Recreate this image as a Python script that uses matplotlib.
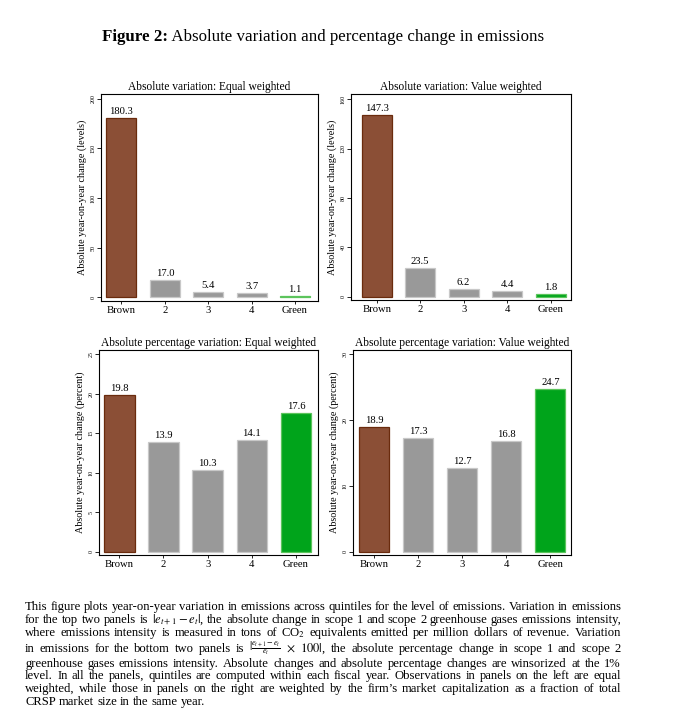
import matplotlib
matplotlib.use("Agg")
import matplotlib.pyplot as plt
import numpy as np

plt.rcParams['font.family'] = ['Liberation Serif', 'DejaVu Serif']
plt.rcParams['mathtext.fontset'] = 'stix'

# ---------------- data ----------------
categories = ["Brown", "2", "3", "4", "Green"]
abs_equal = [180.3, 17.0, 5.4, 3.7, 1.1]
abs_value = [147.3, 23.5, 6.2, 4.4, 1.8]
pct_equal = [19.8, 13.9, 10.3, 14.1, 17.6]
pct_value = [18.9, 17.3, 12.7, 16.8, 24.7]

ticks_abs_equal = [0, 50, 100, 150, 200]
ticks_abs_value = [0, 40, 80, 120, 160]
ticks_pct_equal = [0, 5, 10, 15, 20, 25]
ticks_pct_value = [0, 10, 20, 30]

titles = ["Absolute variation: Equal weighted",
          "Absolute variation: Value weighted",
          "Absolute percentage variation: Equal weighted",
          "Absolute percentage variation: Value weighted"]
ylabels = ["Absolute year-on-year change (levels)",
           "Absolute year-on-year change (levels)",
           "Absolute year-on-year change (percent)",
           "Absolute year-on-year change (percent)"]

fig_title_bold = "Figure 2:"
fig_title_rest = "Absolute variation and percentage change in emissions"

caption_lines = [
    "This figure plots year-on-year variation in emissions across quintiles for the level of emissions. Variation in emissions",
    r"for the top two panels is $|e_{t+1}-e_t|$, the absolute change in scope 1 and scope 2 greenhouse gases emissions intensity,",
    r"where emissions intensity is measured in tons of CO$_2$ equivalents emitted per million dollars of revenue. Variation",
    r"in emissions for the bottom two panels is $|\frac{e_{t+1}-e_t}{e_t}$ $\times$ $100|$, the absolute percentage change in scope 1 and scope 2",
    "greenhouse gases emissions intensity. Absolute changes and absolute percentage changes are winsorized at the 1%",
    "level. In all the panels, quintiles are computed within each fiscal year. Observations in panels on the left are equal",
    "weighted, while those in panels on the right are weighted by the firm\u2019s market capitalization as a fraction of total",
    "CRSP market size in the same year.",
]

# ---------------- layout ----------------
W, H = 673, 724
fig = plt.figure(figsize=(W / 100, H / 100), dpi=100)
fig.patch.set_facecolor('white')


def fx(x):
    return x / W


def fy(y):
    return 1 - y / H


BROWN, BROWN_E = '#8B4F36', '#6A2B0D'
GRAY, GRAY_E = '#999999', '#C8C8C8'
GREEN, GREEN_E = '#00A41B', '#5CC45C'
fills = [BROWN, GRAY, GRAY, GRAY, GREEN]
edges = [BROWN_E, GRAY_E, GRAY_E, GRAY_E, GREEN_E]

panels = [
    dict(box=(101, 94, 318, 301), vals=abs_equal, ticks=ticks_abs_equal,
         ylim=(-4, 205), xlim=(-0.47, 4.53)),
    dict(box=(351, 94, 571, 300), vals=abs_value, ticks=ticks_abs_value,
         ylim=(-2.7, 164.3), xlim=(-0.59, 4.47)),
    dict(box=(99, 350, 318, 555), vals=pct_equal, ticks=ticks_pct_equal,
         ylim=(-0.42, 25.55), xlim=(-0.46, 4.5)),
    dict(box=(353, 350, 571, 555), vals=pct_value, ticks=ticks_pct_value,
         ylim=(-0.5, 30.66), xlim=(-0.48, 4.47)),
]

for i, p in enumerate(panels):
    l, t, r, b = p['box']
    ax = fig.add_axes([fx(l), fy(b), (r - l) / W, (b - t) / H])
    x = np.arange(len(categories))
    bars = ax.bar(x, p['vals'], width=0.69, color=fills, edgecolor=edges,
                  linewidth=0.9)
    ax.bar_label(bars, labels=[f"{v:.1f}" for v in p['vals']], padding=1.5,
                 fontsize=7.7)
    ax.set_xticks(x, categories)
    ax.set_xlim(*p['xlim'])
    ax.set_ylim(*p['ylim'])
    ax.set_yticks(p['ticks'])
    ax.tick_params(axis='y', labelsize=4.3, labelrotation=90, length=3,
                   width=0.6, pad=1)
    ax.tick_params(axis='x', labelsize=7.7, length=2.5, width=0.6, pad=1)
    for lab in ax.get_yticklabels():
        lab.set_va('center')
    for s in ax.spines.values():
        s.set_linewidth(0.8)
    ax.set_title(titles[i], fontsize=8.3, pad=3.2)
    ax.set_ylabel(ylabels[i], fontsize=7.3)
    ax.yaxis.set_label_coords(-14 / (r - l), 0.5)

renderer = fig.canvas.get_renderer()

# ---------------- figure title ----------------
base_size = 12
tb = fig.text(0, 0, fig_title_bold, fontsize=base_size, fontweight='bold')
tr = fig.text(0, 0, " " + fig_title_rest, fontsize=base_size)
wb = tb.get_window_extent(renderer).width
wr = tr.get_window_extent(renderer).width
scale = 441 / (wb + wr)
size_t = base_size * scale
tb.set_fontsize(size_t)
tr.set_fontsize(size_t)
wb = tb.get_window_extent(renderer).width
tb.set_position((fx(102), fy(41)))
tr.set_position((fx(102 + wb), fy(41)))
tb.set_va('baseline')
tr.set_va('baseline')

# ---------------- caption (justified) ----------------
CAP_L, CAP_R = 25, 621
cap_base = [610, 623, 636, 652, 667, 679, 692, 705]


def measure(tok, size):
    t = fig.text(0, 0, tok, fontsize=size)
    w = t.get_window_extent(renderer).width
    t.remove()
    return w


probe = 10
toks0 = caption_lines[0].split(' ')
nat0 = sum(measure(t, probe) for t in toks0) + 0.25 * probe * 100 / 72 * (len(toks0) - 1)
cap_size = probe * (CAP_R - CAP_L - 2) / nat0
MIN_GAP = 1.6

for k, line in enumerate(caption_lines):
    toks = line.split(' ')
    sizes = [cap_size * (0.92 if '\\frac' in tok else 1.0) for tok in toks]
    widths = [measure(t, s) for t, s in zip(toks, sizes)]
    if k < len(caption_lines) - 1:
        gap = (CAP_R - CAP_L - sum(widths)) / (len(toks) - 1)
        gap = max(gap, MIN_GAP)
    else:
        gap = 0.25 * cap_size * 100 / 72
    xpos = CAP_L
    for tok, w, s in zip(toks, widths, sizes):
        fig.text(fx(xpos), fy(cap_base[k]), tok, fontsize=s,
                 va='baseline', ha='left')
        xpos += w + gap

fig.savefig("out.png", dpi=100, facecolor='white')
